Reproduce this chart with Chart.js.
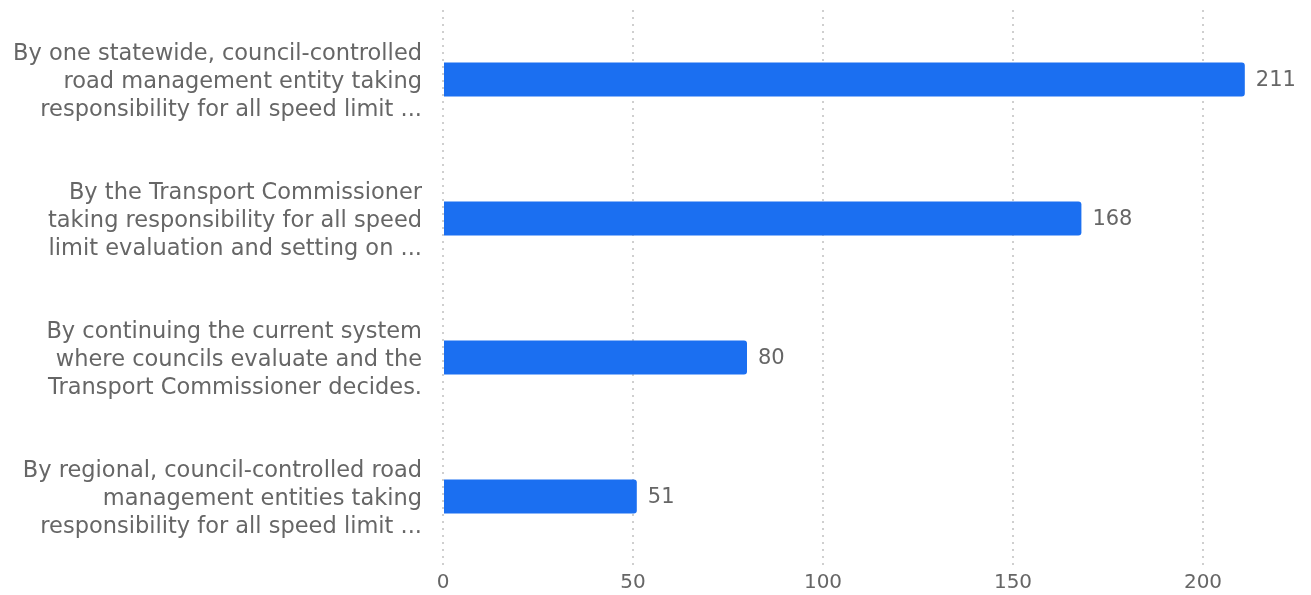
<!DOCTYPE html>
<html>
<head>
<meta charset="utf-8">
<script src="https://cdn.jsdelivr.net/npm/chart.js@4"></script>
<style>
  html, body { margin: 0; padding: 0; background: #fff; }
  #wrap { width: 1311px; height: 595px; }
</style>
</head>
<body>
<div id="wrap"><canvas id="myChart" width="1311" height="595"></canvas></div>
<script>
// answers (long labels are cut off in the original)
const labels = [
  ["By one statewide, council-controlled", "road management entity taking", "responsibility for all speed limit ..."],
  ["By the Transport Commissioner", "taking responsibility for all speed", "limit evaluation and setting on ..."],
  ["By continuing the current system", "where councils evaluate and the", "Transport Commissioner decides."],
  ["By regional, council-controlled road", "management entities taking", "responsibility for all speed limit ..."]
];
const responses = [211, 168, 80, 51];
const xTicks = [0, 50, 100, 150, 200];

const FONT = "'DejaVu Sans'";

// writes the number right after each bar
const valueLabels = {
  id: "valueLabels",
  afterDatasetsDraw(chart) {
    const ctx = chart.ctx;
    const meta = chart.getDatasetMeta(0);
    ctx.save();
    ctx.font = "21px " + FONT;
    ctx.fillStyle = "#666";
    ctx.textAlign = "left";
    ctx.textBaseline = "middle";
    meta.data.forEach((bar, i) => {
      ctx.fillText(responses[i], bar.x + 11, bar.y + 1);
    });
    ctx.restore();
  }
};

var ctx = document.getElementById("myChart").getContext("2d");

var myBarChart = new Chart(ctx, {
  type: "bar",
  data: {
    labels: labels,
    datasets: [{
      data: responses,
      backgroundColor: "#1b6ff1",
      borderRadius: { topRight: 3, bottomRight: 3 },
      borderSkipped: "start",
      categoryPercentage: 0.245,
      barPercentage: 1
    }]
  },
  options: {
    indexAxis: "y",
    responsive: false,
    animation: false,
    layout: { padding: { top: 10, right: 13, left: 0, bottom: 0 } },
    plugins: {
      legend: { display: false },
      tooltip: { enabled: false }
    },
    scales: {
      x: {
        min: 0,
        max: 225,
        afterBuildTicks: (axis) => { axis.ticks = xTicks.map(v => ({ value: v })); },
        afterFit: (scale) => { scale.height = 29; },
        grid: {
          color: "#cfcfcf",
          lineWidth: 2,
          drawTicks: false
        },
        border: { display: false, dash: [2, 5] },
        ticks: {
          color: "#666",
          font: { family: FONT, size: 20, lineHeight: 1.1 },
          padding: 6
        }
      },
      y: {
        afterFit: (scale) => {
          scale.paddingTop = 0;
          scale.paddingBottom = 0;
          scale.width = 443;
        },
        border: { display: false },
        grid: { display: false, drawTicks: false },
        ticks: {
          color: "#666",
          font: { family: FONT, size: 22.5, lineHeight: 1.25 },
          padding: 21,
          labelOffset: 3,
          crossAlign: "near"
        }
      }
    }
  },
  plugins: [valueLabels]
});
</script>
</body>
</html>
